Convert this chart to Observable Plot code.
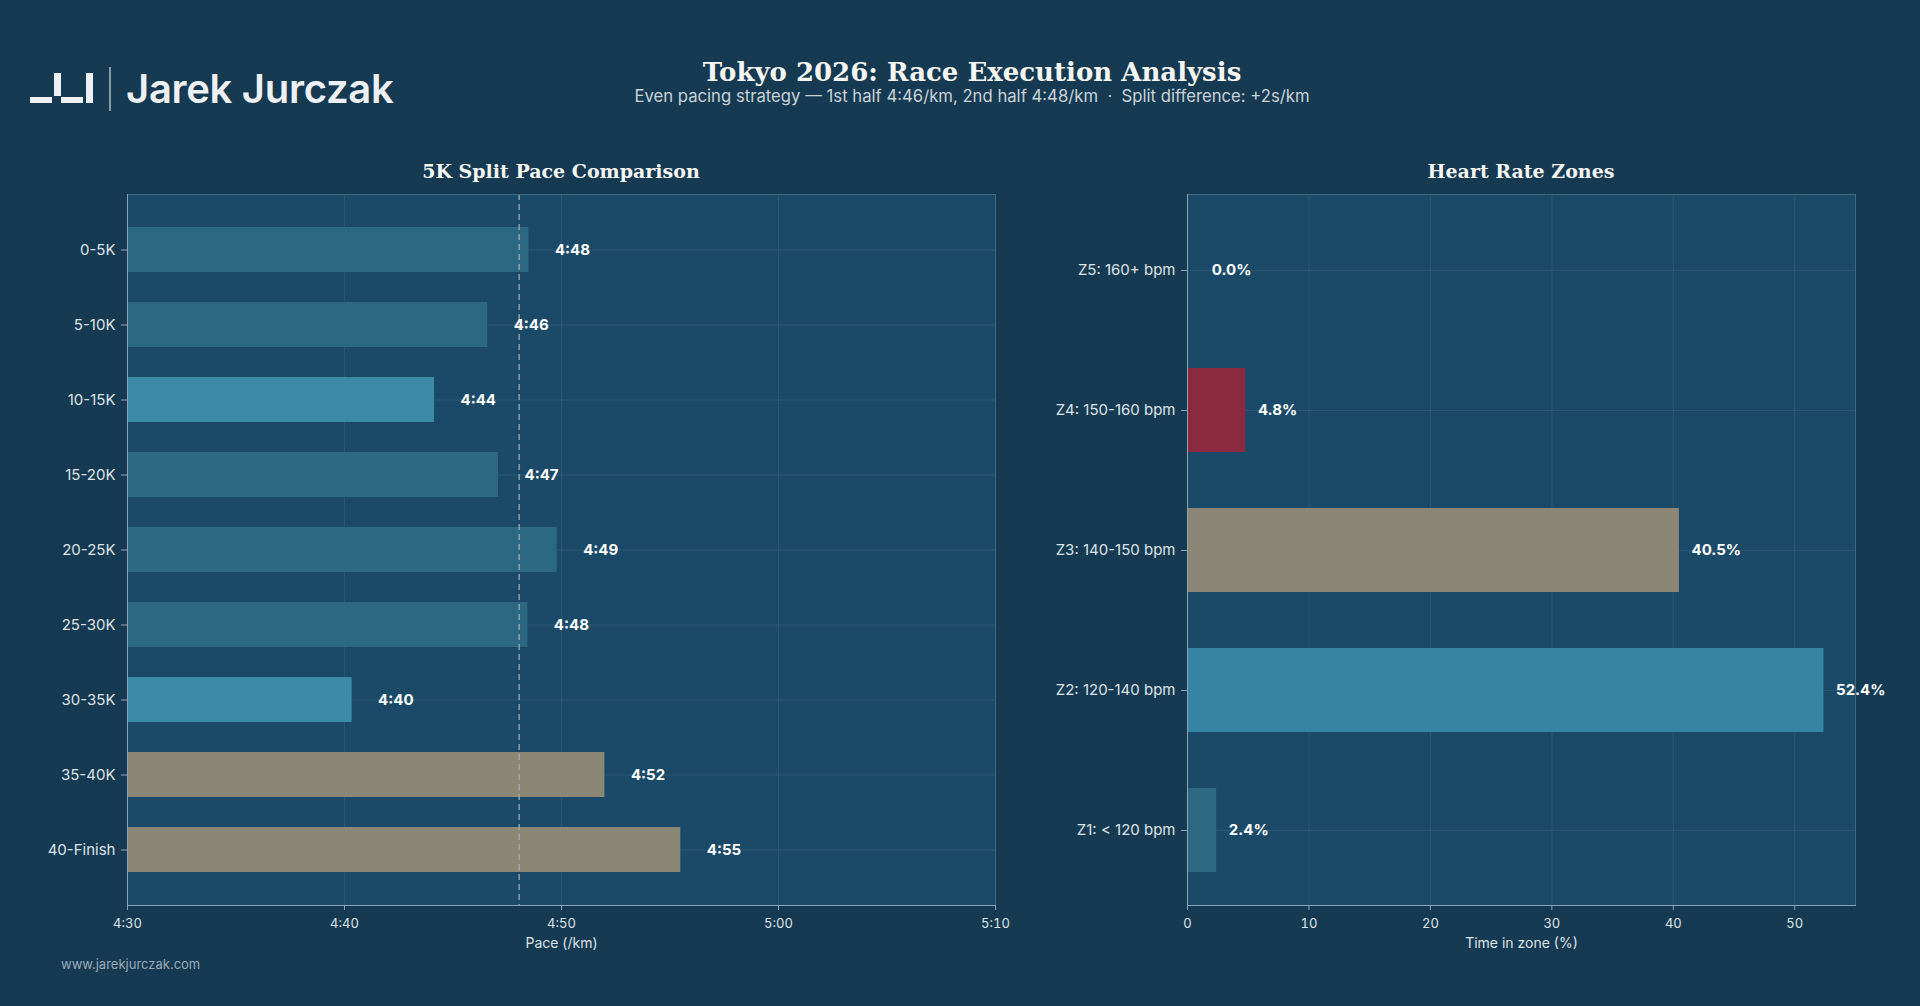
<!DOCTYPE html>
<html>
<head>
<meta charset="utf-8">
<script src="https://cdn.jsdelivr.net/npm/d3@7"></script>
<script src="https://cdn.jsdelivr.net/npm/@observablehq/plot@0.6"></script>
<style>
  html, body { margin: 0; padding: 0; background: #163a52; }
  #page { position: relative; width: 1920px; height: 1006px; background: #163a52; overflow: hidden; font-family: Inter, "Noto Sans", sans-serif; }
  .abs { position: absolute; }
</style>
</head>
<body>
<div id="page"></div>
<script>
// ---- data ----
const splits = ["0-5K", "5-10K", "10-15K", "15-20K", "20-25K", "25-30K", "30-35K", "35-40K", "40-Finish"];
const paceSec = [288.5, 286.6, 284.15, 287.1, 289.8, 288.45, 280.35, 292.0, 295.5];
const paceDomain = [270, 310];
const paceTicks = [270, 280, 290, 300, 310];

const zones = ["Z5: 160+ bpm", "Z4: 150-160 bpm", "Z3: 140-150 bpm", "Z2: 120-140 bpm", "Z1: < 120 bpm"];
const zonePct = [0.0, 4.8, 40.5, 52.4, 2.4];
const zoneColors = ["#b23a52", "#8b293e", "#8b8676", "#3785a5", "#2c6882"];
const zoneDomain = [0, 55];
const zoneTicks = [0, 10, 20, 30, 40, 50];

const titleText = "Tokyo 2026: Race Execution Analysis";
const subtitleText = "Even pacing strategy \u2014 1st half 4:46/km, 2nd half 4:48/km  \u00b7  Split difference: +2s/km";
const leftTitle = "5K Split Pace Comparison";
const rightTitle = "Heart Rate Zones";
const leftXLabel = "Pace (/km)";
const rightXLabel = "Time in zone (%)";
const brand = "Jarek Jurczak";
const footer = "www.jarekjurczak.com";

// ---- colours ----
const C = {
  panel: "#1b4a68", frame: "#3d6985", spine: "#8ea4b4",
  mid: "#2c6882", fast: "#3a8aa8", slow: "#8c8774", tick: "#dce3e8", label: "#ffffff", mean: "#a3adb2"
};

const fmtPace = s => `${Math.floor(s / 60)}:${String(Math.floor(s % 60)).padStart(2, "0")}`;

const splitData = splits.map((s, i) => ({ split: s, pace: paceSec[i] }));
const meanPace = d3.mean(paceSec);
const splitColor = d => d.pace < meanPace - 3 ? C.fast : d.pace > meanPace + 3 ? C.slow : C.mid;

const zoneData = zones.map((z, i) => ({ zone: z, pct: zonePct[i], color: zoneColors[i] }));

const page = document.getElementById("page");

const baseStyle = { background: "transparent", fontFamily: "Inter, 'Noto Sans', sans-serif", fontSize: "15px", color: C.tick, overflow: "visible" };

// ---- left chart ----
const left = Plot.plot({
  width: 1010, height: 830,
  marginLeft: 127, marginRight: 15, marginTop: 43, marginBottom: 76,
  style: baseStyle,
  x: { domain: paceDomain, label: null },
  y: { domain: splits, paddingInner: 0.4, paddingOuter: 0.44, label: null },
  marks: [
    Plot.frame({ fill: C.panel, stroke: null }),
    Plot.gridX(paceTicks, { stroke: "#ffffff", strokeOpacity: 0.07 }),
    Plot.gridY({ stroke: "#ffffff", strokeOpacity: 0.07 }),
    Plot.barX(splitData, { x1: paceDomain[0], x2: "pace", y: "split", fill: splitColor }),
    Plot.ruleX([meanPace], { stroke: C.mean, strokeDasharray: "6,4", strokeWidth: 1.6, strokeOpacity: 0.8 }),
    Plot.text(splitData, { x: "pace", y: "split", text: d => fmtPace(d.pace), dx: 26, textAnchor: "start", fill: C.label, fontWeight: 700, fontSize: 15 }),
    Plot.frame({ stroke: C.frame }),
    Plot.frame({ anchor: "bottom", stroke: C.spine }),
    Plot.frame({ anchor: "left", stroke: C.spine }),
    Plot.axisX({ ticks: paceTicks, tickFormat: fmtPace, tickSize: 5, tickPadding: 8, fontSize: 13, stroke: C.spine, fill: C.tick, label: null }),
    Plot.axisY({ tickSize: 6, tickPadding: 6, fontSize: 15, stroke: C.spine, fill: C.tick, label: null }),
    Plot.text([leftXLabel], { text: d => d, frameAnchor: "bottom", dy: 42, fontSize: 14, fill: C.tick })
  ]
});
left.classList.add("abs");
left.style.left = "0px"; left.style.top = "151px";
page.appendChild(left);

// ---- right chart ----
const right = Plot.plot({
  width: 920, height: 830,
  marginLeft: 187, marginRight: 65, marginTop: 43, marginBottom: 76,
  style: baseStyle,
  x: { domain: zoneDomain, label: null },
  y: { domain: zones, paddingInner: 0.4, paddingOuter: 0.232, label: null },
  marks: [
    Plot.frame({ fill: C.panel, stroke: null }),
    Plot.gridX(zoneTicks, { stroke: "#ffffff", strokeOpacity: 0.07 }),
    Plot.gridY({ stroke: "#ffffff", strokeOpacity: 0.07 }),
    Plot.barX(zoneData, { x1: 0, x2: "pct", y: "zone", fill: "color" }),
    Plot.text(zoneData, { x: d => Math.max(d.pct, 1) + 1, y: "zone", text: d => d.pct.toFixed(1) + "%", textAnchor: "start", fill: C.label, fontWeight: 700, fontSize: 15 }),
    Plot.frame({ stroke: C.frame }),
    Plot.frame({ anchor: "bottom", stroke: C.spine }),
    Plot.frame({ anchor: "left", stroke: C.spine }),
    Plot.axisX({ ticks: zoneTicks, tickSize: 5, tickPadding: 8, fontSize: 13, stroke: C.spine, fill: C.tick, label: null }),
    Plot.axisY({ tickSize: 6, tickPadding: 6, fontSize: 15, stroke: C.spine, fill: C.tick, label: null }),
    Plot.text([rightXLabel], { text: d => d, frameAnchor: "bottom", dy: 42, fontSize: 14, fill: C.tick })
  ]
});
right.classList.add("abs");
right.style.left = "1000px"; right.style.top = "151px";
page.appendChild(right);

// ---- header / footer overlay ----
const svg = d3.select(page).append("svg")
  .attr("class", "abs").attr("width", 1920).attr("height", 1006)
  .style("left", "0px").style("top", "0px").style("pointer-events", "none");

// logo mark
const logoRects = [[30, 97, 22, 6], [54, 73, 7, 23], [61, 97, 22, 6], [86, 73, 7, 30]];
svg.selectAll("rect.logo").data(logoRects).join("rect")
  .attr("x", d => d[0]).attr("y", d => d[1]).attr("width", d => d[2]).attr("height", d => d[3])
  .attr("fill", "#eef1f3");
svg.append("line").attr("x1", 110).attr("x2", 110).attr("y1", 67).attr("y2", 111)
  .attr("stroke", "#b9c4cc").attr("stroke-opacity", 0.7).attr("stroke-width", 2);
svg.append("text").attr("x", 126).attr("y", 103).text(brand)
  .attr("font-family", "Inter, sans-serif").attr("font-weight", 600).attr("font-size", 40)
  .attr("letter-spacing", "-0.3").attr("fill", "#eef1f3");

svg.append("text").attr("x", 972).attr("y", 81).attr("text-anchor", "middle").text(titleText)
  .attr("font-family", "'DejaVu Serif', serif").attr("font-weight", 700).attr("font-size", 26).attr("fill", "#f5f5f2");
svg.append("text").attr("x", 972).attr("y", 102).attr("text-anchor", "middle").text(subtitleText)
  .attr("font-family", "Inter, sans-serif").attr("font-size", 16.7).attr("fill", "#c9d3da").style("white-space", "pre");

svg.append("text").attr("x", 561).attr("y", 178).attr("text-anchor", "middle").text(leftTitle)
  .attr("font-family", "'DejaVu Serif', serif").attr("font-weight", 700).attr("font-size", 19).attr("fill", "#f5f5f2");
svg.append("text").attr("x", 1521).attr("y", 178).attr("text-anchor", "middle").text(rightTitle)
  .attr("font-family", "'DejaVu Serif', serif").attr("font-weight", 700).attr("font-size", 19).attr("fill", "#f5f5f2");

svg.append("text").attr("x", 61).attr("y", 969).text(footer)
  .attr("font-family", "Inter, sans-serif").attr("font-size", 13).attr("fill", "#9aabb8");
</script>
</body>
</html>
